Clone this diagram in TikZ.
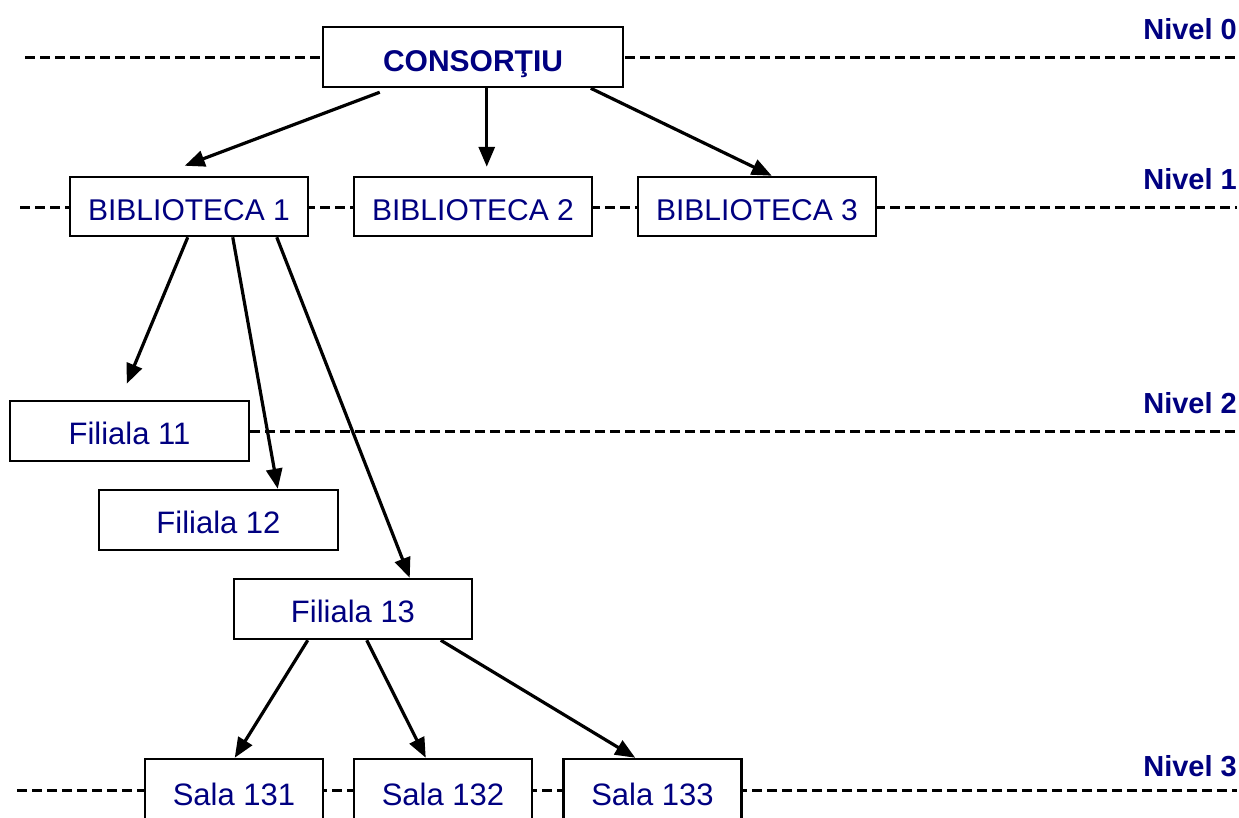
\documentclass[tikz,border=0pt]{standalone}
\usepackage{fontspec}
\setmainfont{Liberation Sans}
\usetikzlibrary{arrows.meta}
\definecolor{navy}{RGB}{0,0,128}
\begin{document}
\begin{tikzpicture}[x=1pt,y=-1pt,
  box/.style={draw=black,line width=2.5pt,fill=white,inner sep=0pt,text=navy,
    text height=27pt,text depth=0pt,font=\fontsize{30}{36}\selectfont},
  bbox/.style={box,minimum width=238pt,minimum height=59pt},
  fbox/.style={box,minimum width=239pt,minimum height=60pt,font=\fontsize{31}{36}\selectfont},
  sbox/.style={box,minimum width=178pt,minimum height=70pt,text height=22pt,font=\fontsize{31}{36}\selectfont},
  lvl/.style={anchor=base east,inner sep=0pt,text=navy,font=\fontsize{29}{34}\selectfont\bfseries},
  dline/.style={line width=3pt,dash pattern=on 10pt off 5pt},
  arr/.style={line width=3.2pt,-{Triangle[length=20pt,width=16pt]}}]
\useasboundingbox (0,0) rectangle (1239,817);
\clip (0,0) rectangle (1239,817);
% level lines
\coordinate (l0a) at (25,57);  \coordinate (l0b) at (1237,57);
\coordinate (l1a) at (20,207); \coordinate (l1b) at (1237,207);
\coordinate (l2b) at (1237,431);
\coordinate (l3a) at (17,790); \coordinate (l3b) at (1237,790);
\draw[dline] (l0a) -- (l0b);
\draw[dline] (l1a) -- (l1b);
\draw[dline] (l3a) -- (l3b);
% nodes
\node[box,minimum width=300pt,minimum height=60pt,text height=28pt,font=\fontsize{30}{36}\selectfont\bfseries] (cons) at (473,57) {CONSORŢIU};
\node[bbox] (b1) at (189,206.5) {BIBLIOTECA 1};
\node[bbox] (b2) at (473,206.5) {BIBLIOTECA 2};
\node[bbox] (b3) at (757,206.5) {BIBLIOTECA 3};
\node[fbox] (f11) at (129.5,431) {Filiala 11};
\node[fbox] (f12) at (218.5,520) {Filiala 12};
\node[fbox,minimum width=238pt] (f13) at (353,609) {Filiala 13};
\node[sbox] (s1) at (234,794) {Sala 131};
\node[sbox] (s2) at (443,794) {Sala 132};
\node[sbox] (s3) at (652.5,794) {Sala 133};
\draw[dline] (f11.east) -- (l2b);
% level labels
\node[lvl] (n0) at (1237,39) {Nivel 0};
\node[lvl] (n1) at (1237,189) {Nivel 1};
\node[lvl] (n2) at (1237,413) {Nivel 2};
\node[lvl] (n3) at (1237,776) {Nivel 3};
% arrows
\draw[arr] ([xshift=58pt,yshift=-4pt]cons.south west) -- ([xshift=116pt,yshift=10pt]b1.north west);
\draw[arr] ([xshift=165pt]cons.south west) -- ([xshift=134pt,yshift=9pt]b2.north west);
\draw[arr] ([xshift=269pt]cons.south west) -- ([xshift=135pt]b3.north west);
\draw[arr] ([xshift=119pt]b1.south west) -- ([xshift=118pt,yshift=16pt]f11.north west);
\draw[arr] ([xshift=164pt]b1.south west) -- ([xshift=180pt]f12.north west);
\draw[arr] ([xshift=208pt]b1.south west) -- ([xshift=177pt]f13.north west);
\draw[arr] ([xshift=75pt]f13.south west) -- ([xshift=91pt]s1.north west);
\draw[arr] ([xshift=134pt]f13.south west) -- ([xshift=73pt]s2.north west);
\draw[arr] ([xshift=208pt]f13.south west) -- ([xshift=73pt]s3.north west);
\end{tikzpicture}
\end{document}
